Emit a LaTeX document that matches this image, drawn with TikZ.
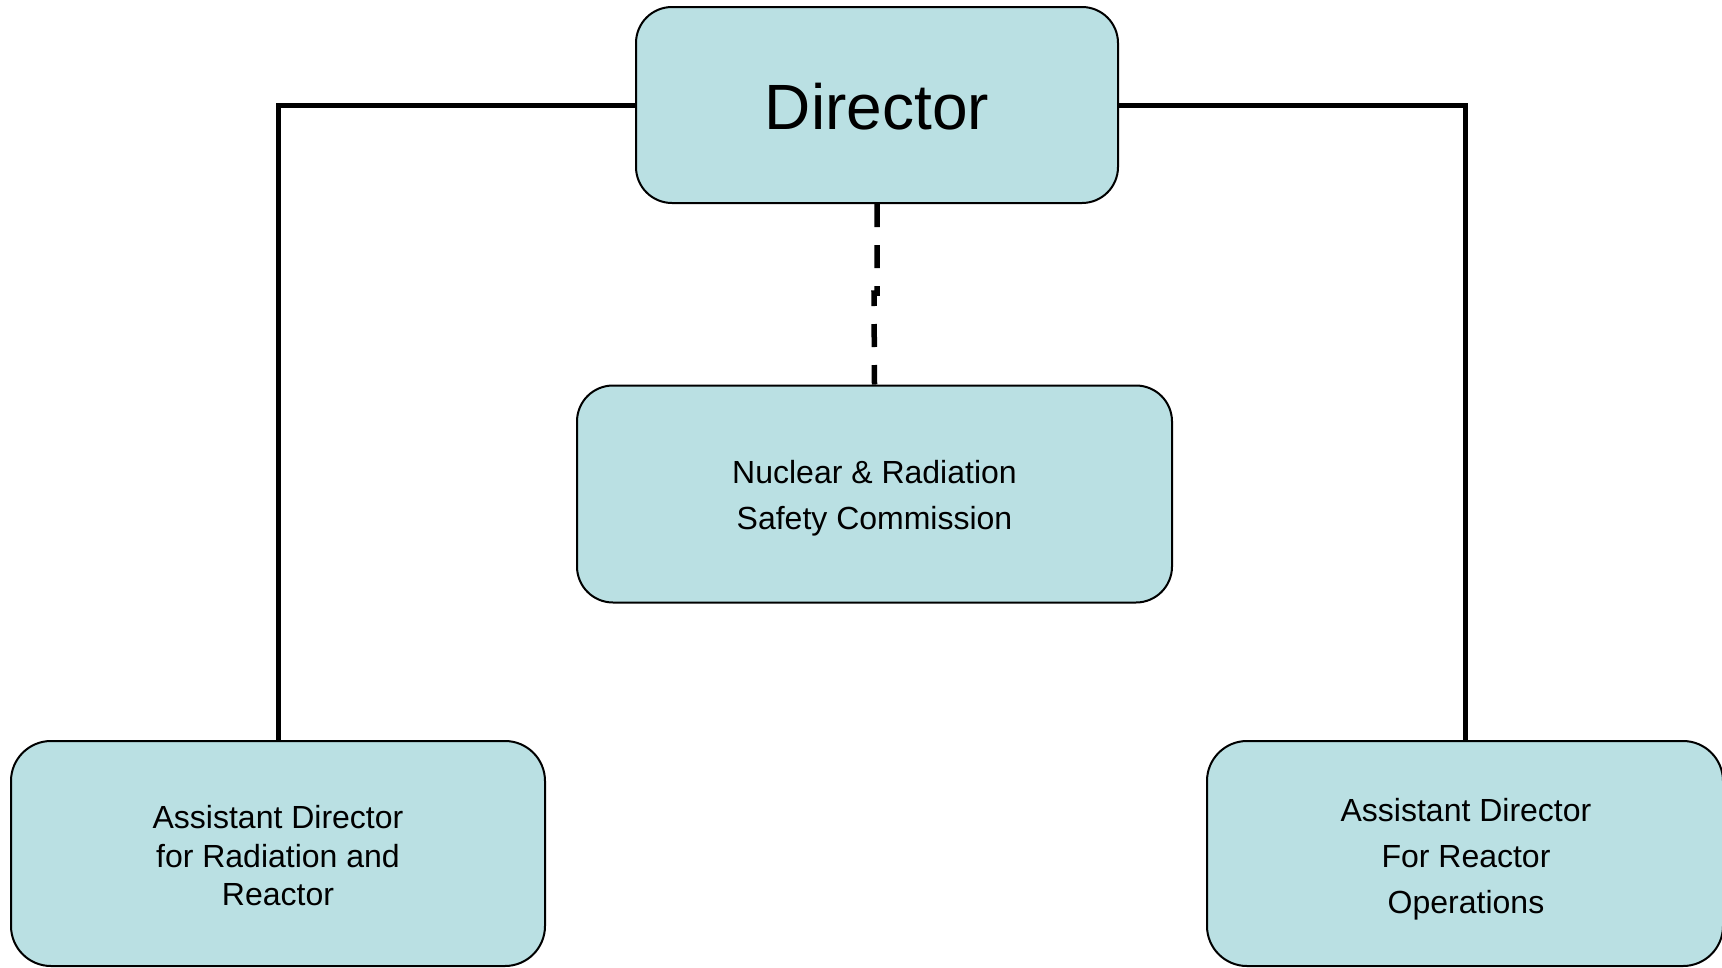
\documentclass[tikz,border=0pt]{standalone}
\usepackage{fontspec}
\setmainfont{Liberation Sans}
\definecolor{boxfill}{RGB}{186,224,227}
\begin{document}
\begin{tikzpicture}[x=1pt,y=-1pt,
  orgbox/.style={draw=black, line width=2pt, fill=boxfill, rounded corners=36pt,
    align=center, inner sep=0pt},
  txt/.style={align=center, inner sep=0pt},
  link/.style={line width=5pt, black},
  dlink/.style={line width=5.5pt, black, dash pattern=on 23pt off 18pt}]
\useasboundingbox (0,0) rectangle (1722,967);
\node[orgbox, minimum width=482pt, minimum height=196pt,
  label={[txt, yshift=-1.2pt, font=\fontsize{64}{70}\selectfont]center:Director}] (dir) at (877,105) {};
\node[orgbox, minimum width=595pt, minimum height=217pt,
  label={[txt, yshift=-4.4pt, font=\fontsize{32}{46}\selectfont]center:Nuclear \& Radiation\\Safety Commission}] (com) at (874.5,494) {};
\node[orgbox, rounded corners=40pt, minimum width=534pt, minimum height=225pt,
  label={[txt, yshift=-2.2pt, font=\fontsize{32}{38.5}\selectfont]center:Assistant Director\\for Radiation and\\Reactor}] (left) at (278,853.5) {};
\node[orgbox, rounded corners=40pt, minimum width=516pt, minimum height=225pt,
  label={[txt, xshift=1pt, yshift=-5.5pt, font=\fontsize{32}{46}\selectfont]center:Assistant Director\\For Reactor\\Operations}] (right) at (1465,853.5) {};
\draw[link] (dir.west) -| (left.north);
\draw[link] (dir.east) -| (right.north);
\coordinate (j1) at (877,293);
\coordinate (j2) at (874,293);
\draw[dlink] (dir.south) -- (j1) -- (j2) -- (com.north);
\end{tikzpicture}
\end{document}
